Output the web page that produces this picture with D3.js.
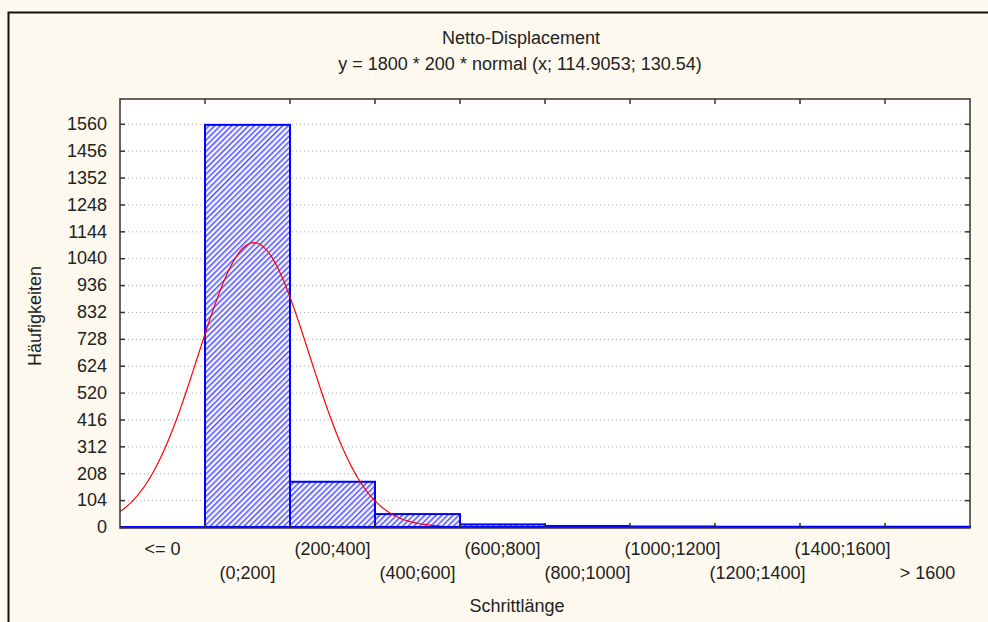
<!DOCTYPE html>
<html>
<head>
<meta charset="utf-8">
<script src="https://cdn.jsdelivr.net/npm/d3@7"></script>
<style>
  body { margin: 0; background: #fdf9ee; }
  text { font-family: "Liberation Sans", Arial, sans-serif; fill: #222; }
</style>
</head>
<body>
<svg id="chart"></svg>
<script>
let w = 988;
let h = 622;
let chart1;

// categories of the histogram (Schrittlänge)
let categories = ["<= 0", "(0;200]", "(200;400]", "(400;600]", "(600;800]",
    "(800;1000]", "(1000;1200]", "(1200;1400]", "(1400;1600]", "> 1600"];
// counts per class
let counts = [0, 1556, 175, 50, 10, 4, 2, 1, 1, 1];
let yTicks = [0, 104, 208, 312, 416, 520, 624, 728, 832, 936, 1040, 1144, 1248, 1352, 1456, 1560];
// fitted normal: 1800 * 200 * normal(x; mu; sigma)
let nTotal = 1800;
let binWidth = 200;
let mu = 114.9053;
let sigma = 130.54;

let margin = {left: 120, right: 18, top: 99, bottom: 94};
let fs = '18px';

function initGraph() {
    chart1 = d3.select("#chart")
        .attr('width', w)
        .attr('height', h);

    // outer frame
    chart1.append('rect')
        .attr('x', 8.5).attr('y', 12.5)
        .attr('width', w + 10).attr('height', h + 10)
        .attr('fill', '#fdf9ee')
        .attr('stroke', '#111')
        .attr('stroke-width', 2);

    let xScale = d3.scaleBand()
        .domain(categories)
        .range([margin.left, w - margin.right])
        .padding(0);
    let bw = xScale.bandwidth();

    // continuous x for the curve: band "(0;200]" spans 0..200
    let xLin = d3.scaleLinear()
        .domain([-200, 1800])
        .range([margin.left, w - margin.right]);

    let yScale = d3.scaleLinear()
        .domain([0, 1656])
        .range([h - margin.bottom - 1, margin.top]);

    // hatch "////"
    let defs = chart1.append('defs');
    let pat = defs.append('pattern')
        .attr('id', 'hatch')
        .attr('patternUnits', 'userSpaceOnUse')
        .attr('width', 4).attr('height', 4)
        .attr('patternTransform', 'rotate(45)');
    pat.append('rect').attr('width', 4).attr('height', 4).attr('fill', '#f4f4ff');
    pat.append('rect')
        .attr('x', 0).attr('y', 0)
        .attr('width', 1.4).attr('height', 4)
        .attr('fill', '#4a4aff');

    defs.append('clipPath').attr('id', 'clip')
        .append('rect')
        .attr('x', margin.left).attr('y', margin.top)
        .attr('width', w - margin.left - margin.right)
        .attr('height', h - margin.top - margin.bottom);

    // plot background
    chart1.append('rect')
        .attr('x', margin.left).attr('y', margin.top)
        .attr('width', w - margin.left - margin.right)
        .attr('height', h - margin.top - margin.bottom)
        .attr('fill', '#fff');

    // grid
    chart1.append('g')
        .selectAll('line')
        .data(yTicks.filter(d => d > 0))
        .enter()
        .append('line')
            .attr('x1', margin.left).attr('x2', w - margin.right)
            .attr('y1', d => yScale(d) + 0.5).attr('y2', d => yScale(d) + 0.5)
            .attr('stroke', '#aaa')
            .attr('stroke-dasharray', '1,3');

    // bars
    chart1.append('g')
        .selectAll('rect')
        .data(counts)
        .enter()
        .append('rect')
            .attr('x', (d, i) => xScale(categories[i]))
            .attr('y', d => yScale(d))
            .attr('width', bw)
            .attr('height', d => yScale(0) - yScale(d))
            .attr('fill', 'url(#hatch)')
            .attr('stroke', '#0000ff')
            .attr('stroke-width', 2);

    // normal curve
    let pts = d3.range(-200, 560, 5).map(v => [v,
        nTotal * binWidth * Math.exp(-0.5 * Math.pow((v - mu) / sigma, 2)) / (sigma * Math.sqrt(2 * Math.PI))]);
    chart1.append('path')
        .datum(pts)
        .attr('clip-path', 'url(#clip)')
        .attr('d', d3.line().x(d => xLin(d[0])).y(d => yScale(d[1])))
        .attr('fill', 'none')
        .attr('stroke', '#ff0000')
        .attr('stroke-width', 1.2);

    // blue base line
    chart1.append('line')
        .attr('x1', margin.left).attr('x2', w - margin.right)
        .attr('y1', yScale(0)).attr('y2', yScale(0))
        .attr('stroke', '#0000ff')
        .attr('stroke-width', 2);

    // plot frame
    chart1.append('rect')
        .attr('x', margin.left).attr('y', margin.top)
        .attr('width', w - margin.left - margin.right)
        .attr('height', h - margin.top - margin.bottom)
        .attr('fill', 'none')
        .attr('stroke', '#333')
        .attr('stroke-width', 1.5);

    // y axis left and right, ticks inside
    let yAxisL = d3.axisLeft(yScale).tickValues(yTicks).tickSize(-5).tickPadding(13).tickFormat(d3.format('d'));
    let gl = chart1.append('g')
        .attr('transform', `translate(${margin.left}, 0)`)
        .attr('font-size', fs)
        .attr('font-family', '"Liberation Sans", Arial, sans-serif')
        .call(yAxisL);
    gl.select('.domain').remove();
    gl.selectAll('line').attr('stroke', '#333').attr('stroke-width', 1.5);
    gl.selectAll('text').attr('font-size', fs).attr('fill', '#222');

    let yAxisR = d3.axisRight(yScale).tickValues(yTicks.filter(d => d > 0)).tickSize(-5).tickFormat('');
    let gr = chart1.append('g')
        .attr('transform', `translate(${w - margin.right}, 0)`)
        .call(yAxisR);
    gr.select('.domain').remove();
    gr.selectAll('line').attr('stroke', '#333').attr('stroke-width', 1.5);

    // x ticks at class borders, top and bottom
    let borders = categories.slice(1).map(c => xScale(c));
    chart1.append('g')
        .selectAll('line')
        .data(borders)
        .enter()
        .append('line')
            .attr('x1', d => d).attr('x2', d => d)
            .attr('y1', margin.top).attr('y2', margin.top + 5)
            .attr('stroke', '#333').attr('stroke-width', 1.5);
    chart1.append('g')
        .selectAll('line')
        .data(borders)
        .enter()
        .append('line')
            .attr('x1', d => d).attr('x2', d => d)
            .attr('y1', yScale(0)).attr('y2', yScale(0) - 4)
            .attr('stroke', '#333').attr('stroke-width', 1.5);

    // staggered category labels
    chart1.append('g')
        .selectAll('text')
        .data(categories)
        .enter()
        .append('text')
            .attr('x', d => xScale(d) + bw / 2)
            .attr('y', (d, i) => i % 2 == 0 ? 555 : 579)
            .attr('text-anchor', 'middle')
            .attr('font-size', fs)
            .text(d => d);

    // titles
    chart1.append('text')
        .attr('x', 521).attr('y', 44)
        .attr('text-anchor', 'middle')
        .attr('font-size', fs)
        .text('Netto-Displacement');
    chart1.append('text')
        .attr('x', 520).attr('y', 70)
        .attr('text-anchor', 'middle')
        .attr('font-size', fs)
        .text('y = ' + nTotal + ' * ' + binWidth + ' * normal (x; ' + mu + '; ' + sigma + ')');
    chart1.append('text')
        .attr('x', 517).attr('y', 612)
        .attr('text-anchor', 'middle')
        .attr('font-size', fs)
        .text('Schrittlänge');
    chart1.append('text')
        .attr('transform', 'translate(41, 316) rotate(-90)')
        .attr('text-anchor', 'middle')
        .attr('font-size', fs)
        .text('Häufigkeiten');
}

initGraph();
</script>
</body>
</html>
